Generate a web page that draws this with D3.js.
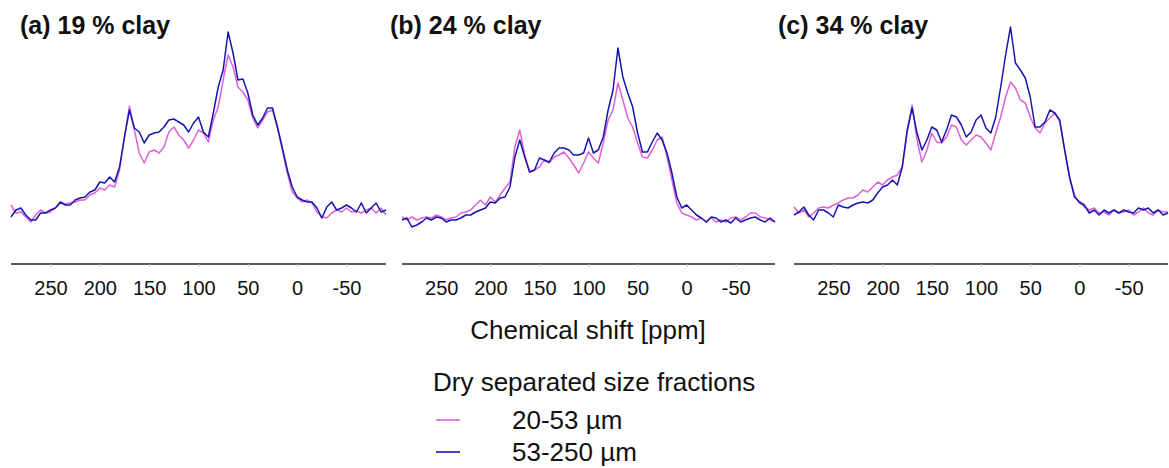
<!DOCTYPE html>
<html><head><meta charset="utf-8">
<script src="https://cdn.jsdelivr.net/npm/d3@7"></script>
<style>body{margin:0;background:#fff}svg{display:block}text{font-family:"Liberation Sans",Arial,sans-serif}</style>
</head><body><svg id="c" width="1169" height="468"></svg>
<script>
// Chemical shift grid (ppm), 290 to -90 in 5 ppm steps
const ppm = d3.range(290, -91, -5);
const panelTitles = ["(a) 19 % clay", "(b) 24 % clay", "(c) 34 % clay"];
const seriesNames = ["20-53 µm", "53-250 µm"];
const seriesColors = ["#de62d6", "#1515b0"];
const tickValues = [250, 200, 150, 100, 50, 0, -50];
const xLabel = "Chemical shift [ppm]";
const legendTitle = "Dry separated size fractions";

// intensities (arbitrary units)
const a_fine = [25,17,18,13,8,15,20,17,18,22,27,26,27,28,30,30,35,37,42,40,45,43,60,93,124,100,77,67,78,80,77,83,98,103,95,90,82,90,100,97,88,110,123,150,175,163,143,138,130,112,102,110,118,120,102,80,57,38,32,28,30,27,18,13,12,17,20,18,22,18,19,17,20,22,17,22,15];
const a_coarse = [13,20,22,15,10,10,17,17,20,22,28,25,25,30,32,33,38,40,48,47,53,48,63,93,120,102,98,87,95,97,98,103,110,111,108,105,98,107,113,98,93,117,143,160,198,177,150,151,137,115,105,112,122,122,103,82,60,43,33,30,28,28,22,12,23,28,20,22,25,22,18,27,17,22,27,18,20];
const b_fine = [13,10,13,10,12,13,12,15,13,10,12,13,17,18,20,25,30,25,33,28,35,42,48,83,100,75,58,60,63,70,67,73,75,78,72,65,57,67,78,72,67,87,110,120,147,130,112,103,87,73,72,80,90,93,73,50,27,17,15,13,10,12,8,12,8,10,8,12,13,10,13,17,17,13,12,10,8];
const b_coarse = [10,12,3,5,8,12,10,13,12,8,10,10,12,15,15,18,20,22,28,27,32,33,43,73,90,73,58,60,72,70,68,77,82,82,80,75,75,77,92,77,80,93,120,140,182,153,137,123,97,78,78,88,97,90,77,57,33,22,25,20,15,12,8,13,12,8,10,7,12,8,10,12,13,10,8,12,8];
const c_fine = [23,17,20,13,17,22,23,22,25,27,30,32,32,35,40,38,43,48,45,50,53,55,63,97,125,90,68,80,97,88,87,93,105,103,90,85,90,95,93,87,80,97,113,133,148,142,130,127,113,102,97,107,112,117,108,80,52,35,27,23,20,22,17,18,15,20,17,18,20,15,18,22,17,15,20,18,18];
const c_coarse = [15,18,23,15,10,20,20,17,13,25,23,22,25,27,28,27,30,37,43,45,50,45,63,100,122,97,80,90,103,100,88,100,115,113,105,93,98,110,115,102,97,113,143,175,203,167,160,152,133,103,103,108,120,117,110,80,53,33,28,25,17,20,15,20,17,20,17,20,18,17,22,20,22,17,20,15,17];

const panels = [
  {title: panelTitles[0], series: [a_fine, a_coarse], range: [11, 386], titleX: 20},
  {title: panelTitles[1], series: [b_fine, b_coarse], range: [402, 775], titleX: 390},
  {title: panelTitles[2], series: [c_fine, c_coarse], range: [794, 1168], titleX: 778}
];

const svg = d3.select("#c");
const y = d3.scaleLinear().domain([0, 200]).range([230, 30]);
const axisY = 264;

panels.forEach(p => {
  const x = d3.scaleLinear().domain([290, -90]).range(p.range);
  const g = svg.append("g");
  const ax = g.append("g").attr("transform", `translate(0,${axisY})`)
    .call(d3.axisBottom(x).tickValues(tickValues).tickSize(3).tickPadding(14).tickFormat(d => String(d)));
  ax.select(".domain").attr("stroke", "#222").attr("stroke-width", 1.3).attr("d", `M${p.range[0]},0H${p.range[1]}`);
  ax.selectAll(".tick line").attr("stroke", "#bbb");
  ax.selectAll(".tick text").attr("font-size", 20).attr("fill", "#111")
    .attr("font-family", '"Liberation Sans",Arial,sans-serif');
  const line = d3.line().x((d, i) => x(ppm[i])).y(d => y(d));
  p.series.forEach((s, k) => {
    g.append("path").datum(s).attr("d", line).attr("fill", "none")
      .attr("stroke", seriesColors[k]).attr("stroke-width", 1.5).attr("stroke-linejoin", "round");
  });
  g.append("text").attr("x", p.titleX).attr("y", 34).attr("font-size", 25).attr("font-weight", "bold")
    .attr("fill", "#111").text(p.title);
});

svg.append("text").attr("x", 588).attr("y", 339).attr("text-anchor", "middle")
  .attr("font-size", 26).attr("fill", "#111").text(xLabel);
svg.append("text").attr("x", 433).attr("y", 391).attr("font-size", 26).attr("fill", "#111").text(legendTitle);
seriesNames.forEach((n, k) => {
  const yy = 420 + k * 32;
  svg.append("line").attr("x1", 436).attr("x2", 460).attr("y1", yy).attr("y2", yy)
    .attr("stroke", seriesColors[k]).attr("stroke-width", 1.6);
  svg.append("text").attr("x", 512).attr("y", yy + 9).attr("font-size", 26).attr("fill", "#111").text(n);
});
</script></body></html>
